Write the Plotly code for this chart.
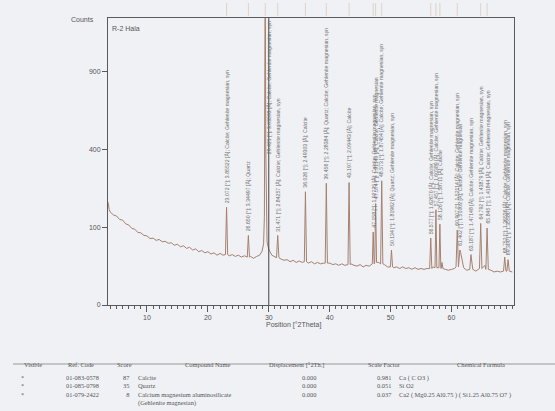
import numpy as np
import plotly.graph_objects as go

# ---------------- data ----------------
# background profile (2theta, counts), noisy as scanned
bg_theta = [3.6, 3.8] + [4.0 + 0.5 * i for i in range(133)]
bg_counts = [175, 150,
             142, 134, 131, 121, 119, 109, 106, 97, 95, 87, 86, 80, 79, 73, 74, 69, 71, 66,
             67, 63, 64, 59, 61, 56, 58, 53, 55, 50, 52, 47, 49, 45, 47, 43, 45, 41, 44, 41,
             42, 40, 42, 39, 41, 38, 40, 37, 39, 36, 39, 41, 47, 60, 52, 41, 38, 36, 35, 33,
             34, 31, 33, 30, 32, 30, 31, 29, 31, 28, 30, 28, 29, 27, 29, 27, 28, 26, 28, 26,
             27, 28, 26, 25, 27, 24, 26, 25, 27, 32, 30, 28, 27, 24, 25, 23, 24, 22, 24, 22,
             23, 21, 23, 21, 22, 21, 22, 23, 24, 25, 24, 22, 21, 20, 21, 22, 30, 28, 23, 20,
             24, 21, 19, 21, 24, 26, 22, 20, 18, 19, 18, 20, 22, 19, 18]

# main calcite (104) reflection, drawn point by point (goes off scale)
main_theta = [28.9, 29.15, 29.28, 29.36, 29.42, 29.5, 29.6, 29.72, 29.85, 30.05]
main_counts = [48, 62, 130, 600, 2200, 420, 110, 66, 58, 50]

# broad hump near 61.4
hump_theta = [61.25, 61.38, 61.5, 61.62, 61.8]
hump_counts = [38, 50, 46, 40, 28]

# sharp reflections: position, tip counts, base counts, half width (deg)
peak_pos = [23.07, 26.65, 31.47, 36.02, 39.45, 43.19, 47.15, 47.55, 48.55, 50.15,
            56.60, 57.45, 58.10, 58.45, 60.95, 63.20, 64.80, 65.85, 68.75, 69.30]
peak_height = [158, 80, 80, 212, 245, 248, 88, 170, 255, 50,
               74, 150, 108, 30, 93, 42, 110, 98, 38, 34]
peak_base = [42, 38, 37, 31, 29, 27, 28, 30, 28, 24,
             22, 23, 23, 22, 24, 21, 22, 21, 19, 19]
peak_hw = [0.18, 0.18, 0.2, 0.18, 0.18, 0.18, 0.15, 0.15, 0.18, 0.18,
           0.18, 0.15, 0.15, 0.15, 0.2, 0.2, 0.2, 0.2, 0.2, 0.2]

# peak labels (drawn above the tips)
label_pos = [23.07, 26.65, 31.47, 36.02, 39.45, 43.19, 47.15, 47.55, 48.55, 50.15,
             56.60, 57.45, 58.10, 60.95, 61.38, 63.20, 64.80, 65.85, 68.75, 69.30]
label_counts = [158, 80, 80, 212, 245, 248, 88, 170, 255, 50,
                74, 150, 108, 93, 50, 42, 110, 98, 38, 34]
label_text = [
    "23.072 [°]; 3.85522 [Å]; Calcite; Gehlenite magnesian, syn",
    "26.650 [°]; 3.34497 [Å]; Quartz",
    "31.471 [°]; 2.84257 [Å]; Calcite; Gehlenite magnesian, syn",
    "36.026 [°]; 2.49303 [Å]; Calcite",
    "39.456 [°]; 2.28384 [Å]; Quartz; Calcite; Gehlenite magnesian, syn",
    "43.197 [°]; 2.09443 [Å]; Calcite",
    "47.158 [°]; 1.92725 [Å]; Calcite; Gehlenite magnesian, syn",
    "47.574 [°]; 1.91140 [Å]; Calcite; Gehlenite magnesian",
    "48.573 [°]; 1.87454 [Å]; Calcite; Gehlenite magnesian, syn",
    "50.134 [°]; 1.81962 [Å]; Quartz; Gehlenite magnesian, syn",
    "56.577 [°]; 1.62670 [Å]; Calcite; Gehlenite magnesian, syn",
    "57.457 [°]; 1.60389 [Å]; Calcite; Gehlenite magnesian, syn",
    "58.126 [°]; 1.58711 [Å]; Calcite",
    "60.907 [°]; 1.52114 [Å]; Calcite; Gehlenite magnesian, syn",
    "61.402 [°]; 1.51002 [Å]; Calcite; Gehlenite magnesian",
    "63.187 [°]; 1.47148 [Å]; Calcite; Gehlenite magnesian, syn",
    "64.792 [°]; 1.43879 [Å]; Calcite; Gehlenite magnesian, syn",
    "65.845 [°]; 1.41844 [Å]; Calcite; Gehlenite magnesian, syn",
    "68.752 [°]; 1.36536 [Å]; Calcite; Gehlenite magnesian, syn",
    "69.300 [°]; 1.35580 [Å]; Calcite; Gehlenite magnesian, syn",
]
main_label = "29.421 [°]; 3.03593 [Å]; Calcite; Gehlenite magnesian, syn"
main_label_pos = 29.42

y_ticks = [0, 100, 400, 900]
x_ticks = [10, 20, 30, 40, 50, 60]
cursor_pos = 30.0

# table of identified phases
tbl_visible = ["*", "*", "*"]
tbl_ref = ["01-083-0578", "01-085-0798", "01-079-2422"]
tbl_score = ["87", "35", "8"]
tbl_name = ["Calcite", "Quartz", "Calcium magnesium aluminosilicate", "(Gehlenite magnesian)"]
tbl_disp = ["0.000", "0.000", "0.000"]
tbl_scale = ["0.981", "0.051", "0.037"]
tbl_formula = ["Ca ( C O3 )", "Si O2", "Ca2 ( Mg0.25 Al0.75 ) ( Si1.25 Al0.75 O7 )"]
tbl_headers = ["Visible", "Ref. Code", "Score", "Compound Name",
               "Displacement [°2Th.]", "Scale Factor", "Chemical Formula"]

# ---------------- build profile ----------------
pts = []
for t, c in zip(bg_theta, bg_counts):
    near_peak = any(abs(t - p) < hw + 0.06 for p, hw in zip(peak_pos, peak_hw))
    in_main = main_theta[0] - 0.05 <= t <= main_theta[-1] + 0.05
    in_hump = hump_theta[0] - 0.05 <= t <= hump_theta[-1] + 0.05
    if not (near_peak or in_main or in_hump):
        pts.append((t, c))
pts += list(zip(main_theta, main_counts))
pts += list(zip(hump_theta, hump_counts))
for p, h, b, hw in zip(peak_pos, peak_height, peak_base, peak_hw):
    pts += [(p - hw, b), (p, h), (p + hw, b)]
pts.sort()
theta = np.array([q[0] for q in pts])
counts = np.array([q[1] for q in pts], dtype=float)

# ---------------- figure ----------------
W, H = 555, 411
L, R, T, B = 108, 514, 18, 305
BG = "#f0f1f5"
AX = "#5a5a5a"
TXT = "#555555"
SANS = "Liberation Sans, Arial, sans-serif"
SERIF = "Liberation Serif, Times New Roman, serif"


def px(x):
    return (x - L) / (R - L)


def py(y):
    return (B - y) / (B - T)


fig = go.Figure()
fig.add_trace(go.Scatter(x=theta, y=np.sqrt(counts), mode="lines",
                         line=dict(color="#a5806f", width=1), hoverinfo="skip",
                         showlegend=False))

ann = []
for p, c, txt in zip(label_pos, label_counts, label_text):
    ann.append(dict(x=p, y=np.sqrt(c), xref="x", yref="y", text=txt, textangle=-90,
                    showarrow=False, xanchor="center", yanchor="bottom", yshift=2,
                    font=dict(size=5.2, color="#6e6e6e", family=SANS)))
ann.append(dict(x=main_label_pos, y=0.995, xref="x", yref="paper", text=main_label,
                textangle=-90, showarrow=False, xanchor="left", yanchor="top", xshift=-1,
                font=dict(size=5.2, color="#6e6e6e", family=SANS)))

ann.append(dict(x=px(69), y=py(14), xref="paper", yref="paper", text="Counts",
                showarrow=False, font=dict(size=7, color=TXT, family=SANS)))
ann.append(dict(x=px(110), y=py(23), xref="paper", yref="paper", text="R-2 Hala",
                xanchor="left", showarrow=False, font=dict(size=7, color=TXT, family=SANS)))
ann.append(dict(x=px(293), y=py(331), xref="paper", yref="paper", text="Position [°2Theta]",
                showarrow=False, font=dict(size=7, color=TXT, family=SANS)))

# table: headers on one line, then each column as one multi-line block
tf = dict(size=6.4, color=TXT, family=SERIF)
hy = 368.5
for text, cx in zip(tbl_headers, [33, 81, 124, 207, 296, 384, 481]):
    ann.append(dict(x=px(cx), y=py(hy), xref="paper", yref="paper", text=text,
                    showarrow=False, xanchor="center", font=tf, borderpad=0))
block_top = 373.0
cols = [(tbl_visible, 22, "center"), (tbl_ref, 65, "left"), (tbl_score, 131, "right"),
        (tbl_name, 137, "left"), (tbl_disp, 317, "right"), (tbl_scale, 393, "right"),
        (tbl_formula, 398, "left")]
for vals, cx, xa in cols:
    ann.append(dict(x=px(cx), y=py(block_top), xref="paper", yref="paper",
                    text="<br>".join(vals), align=xa, showarrow=False, xanchor=xa,
                    yanchor="top", font=tf, borderpad=0))

shapes = [
    dict(type="line", xref="x", yref="paper", x0=cursor_pos, x1=cursor_pos, y0=0, y1=1,
         line=dict(color="#444", width=1)),
    dict(type="line", xref="paper", yref="paper", x0=px(13), x1=px(555), y0=py(364), y1=py(364),
         line=dict(color="#999", width=1)),
]
for p, h in zip(peak_pos + [main_label_pos], peak_height + [2000]):
    if h >= 70:
        shapes.append(dict(type="line", xref="x", yref="paper", x0=p, x1=p,
                           y0=py(16), y1=py(3), line=dict(color="#ddd3c8", width=1)))

fig.update_layout(
    width=W, height=H,
    margin=dict(l=L, r=W - R, t=T, b=H - B, pad=0),
    paper_bgcolor=BG, plot_bgcolor=BG,
    showlegend=False,
    annotations=ann, shapes=shapes,
    font=dict(family=SANS, size=7, color=TXT),
    xaxis=dict(range=[3.6, 70.27], tickvals=x_ticks, ticks="outside", ticklen=6, tickwidth=1,
               tickcolor=AX, showgrid=False, zeroline=False, showline=True, linecolor=AX,
               linewidth=1, mirror=True, tickfont=dict(size=7, color=TXT),
               minor=dict(dtick=1, tick0=0, ticks="outside", ticklen=3, tickcolor=AX, showgrid=False)),
    yaxis=dict(range=[0, 36.9], tickvals=[float(np.sqrt(v)) for v in y_ticks],
               ticktext=[str(v) for v in y_ticks], ticks="outside", ticklen=5, tickwidth=1,
               tickcolor=AX, showgrid=False, zeroline=False, showline=True, linecolor=AX,
               linewidth=1, mirror=True, tickfont=dict(size=7, color=TXT)),
)

fig.write_html("out.html")
